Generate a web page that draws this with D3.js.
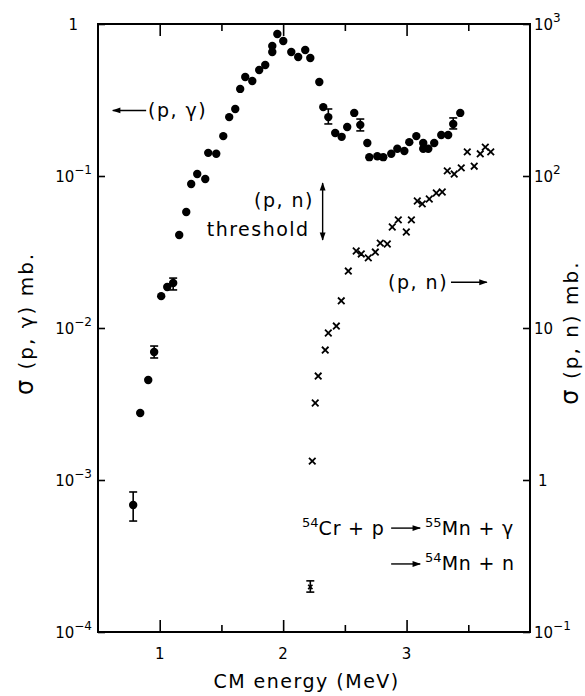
<!DOCTYPE html>
<html lang="en">
<head>
  <meta charset="UTF-8">
  <title>54Cr + p cross sections</title>
  <script src="https://d3js.org/d3.v7.min.js"></script>
  <style>
    body {
      margin: 0;
      background: #fff;
    }
    svg text {
      font-family: "DejaVu Sans", "Liberation Sans", sans-serif;
      fill: #000;
    }
    .frame {
      fill: none;
      stroke: #000;
      stroke-width: 2;
    }
    .tick line {
      stroke: #000;
      stroke-width: 1.6;
    }
    .note {
      font-size: 19px;
      letter-spacing: 1.5px;
    }
    .title {
      font-size: 20px;
      letter-spacing: 2px;
    }
    .reaction {
      font-size: 19px;
      letter-spacing: 0.8px;
    }
  </style>
</head>
<body>
  <svg width="585" height="696"></svg>

  <script>
    // (p,gamma) cross section, left axis (mb)
    const pgEnergy = [0.785, 0.842, 0.907, 0.955, 1.012, 1.061, 1.109, 1.158, 1.215, 1.255,
                      1.304, 1.369, 1.393, 1.458, 1.515, 1.563, 1.612, 1.652, 1.693, 1.750,
                      1.806, 1.855, 1.912, 1.912, 1.953, 2.001, 2.066, 2.122, 2.179, 2.220,
                      2.293, 2.325, 2.366, 2.422, 2.474, 2.519, 2.576, 2.625, 2.682, 2.698,
                      2.763, 2.811, 2.876, 2.925, 2.982, 3.022, 3.079, 3.135, 3.135, 3.176,
                      3.224, 3.281, 3.337, 3.378, 3.435];
    const pgSigma = [6.85e-4, 2.76e-3, 4.55e-3, 6.95e-3, 1.62e-2, 1.86e-2, 1.98e-2, 4.09e-2, 5.79e-2, 8.86e-2,
                     0.103, 0.0955, 0.142, 0.140, 0.183, 0.244, 0.276, 0.374, 0.448, 0.422,
                     0.498, 0.537, 0.654, 0.717, 0.860, 0.773, 0.654, 0.607, 0.675, 0.597,
                     0.415, 0.284, 0.244, 0.192, 0.181, 0.210, 0.260, 0.217, 0.165, 0.133,
                     0.135, 0.133, 0.140, 0.151, 0.146, 0.167, 0.183, 0.165, 0.151, 0.151,
                     0.165, 0.186, 0.186, 0.220, 0.260];

    // error bars on some (p,gamma) points
    const pgErrEnergy = [0.785, 0.955, 1.109, 2.366, 2.625, 3.378];
    const pgErrLow = [5.37e-4, 6.35e-3, 1.78e-2, 0.220, 0.198, 0.204];
    const pgErrHigh = [8.34e-4, 7.61e-3, 2.13e-2, 0.276, 0.237, 0.241];

    // (p,n) cross section, right axis (mb)
    const pnEnergy = [2.236, 2.260, 2.284, 2.341, 2.366, 2.431, 2.471, 2.528, 2.592, 2.633,
                      2.690, 2.747, 2.787, 2.844, 2.884, 2.933, 2.998, 3.039, 3.087, 3.127,
                      3.184, 3.241, 3.289, 3.330, 3.386, 3.443, 3.492, 3.548, 3.597, 3.638,
                      3.682];
    const pnSigma = [1.33, 3.21, 4.83, 7.16, 9.27, 10.3, 15.1, 23.7, 32.1, 30.7,
                     28.9, 31.6, 36.2, 35.7, 46.2, 51.4, 42.8, 51.4, 68.5, 65.5,
                     70.6, 77.3, 78.5, 108, 103, 113, 144, 116, 140, 155,
                     144];

    // lone (p,n) point near threshold, with error bar
    const pnErrEnergy = [2.22];
    const pnErrSigma = [0.198];
    const pnErrLow = [0.183];
    const pnErrHigh = [0.217];

    const xMajor = [1, 2, 3];
    const xMinor = [1.5, 2.5, 3.5];
    const leftTicks = [1e-4, 1e-3, 1e-2, 1e-1, 1];
    const leftExp = [-4, -3, -2, -1, 0];
    const rightTicks = [1e-1, 1, 10, 100, 1000];
    const rightExp = [-1, 0, 1, 2, 3];

    const svg = d3.select("svg"),
          margin = {top: 24, right: 55, bottom: 64, left: 98},
          width = +svg.attr("width") - margin.left - margin.right,
          height = +svg.attr("height") - margin.top - margin.bottom,
          chart = svg.append("g").attr("transform", `translate(${margin.left},${margin.top})`);

    const x = d3.scaleLinear().domain([0.5, 4.0]).range([0, width]);
    const yL = d3.scaleLog().domain([1e-4, 1]).range([height, 0]);
    const yR = d3.scaleLog().domain([1e-1, 1e3]).range([height, 0]);

    // frame
    chart.append("rect").attr("class", "frame")
      .attr("x", 0).attr("y", 0).attr("width", width).attr("height", height);

    // x ticks, inward on top and bottom
    const xTickVals = xMajor.concat(xMinor);
    chart.append("g").attr("class", "tick")
      .attr("transform", `translate(0,${height})`)
      .call(d3.axisBottom(x).tickValues(xTickVals).tickFormat(""))
      .call(g => g.select(".domain").remove())
      .call(g => g.selectAll("line").attr("y2", d => xMajor.includes(d) ? -12 : -7));
    chart.append("g").attr("class", "tick")
      .call(d3.axisTop(x).tickValues(xTickVals).tickFormat(""))
      .call(g => g.select(".domain").remove())
      .call(g => g.selectAll("line").attr("y2", d => xMajor.includes(d) ? 12 : 7));

    chart.selectAll(".xlab").data(xMajor).enter().append("text")
      .attr("x", d => x(d)).attr("y", height + 27)
      .attr("text-anchor", "middle").style("font-size", "15px")
      .text(d => d);

    // y ticks, inward
    chart.append("g").attr("class", "tick")
      .call(d3.axisLeft(yL).tickValues(leftTicks).tickFormat(""))
      .call(g => g.select(".domain").remove())
      .call(g => g.selectAll("line").attr("x2", 7));
    chart.append("g").attr("class", "tick")
      .attr("transform", `translate(${width},0)`)
      .call(d3.axisRight(yR).tickValues(rightTicks).tickFormat(""))
      .call(g => g.select(".domain").remove())
      .call(g => g.selectAll("line").attr("x2", -7));

    function powerLabel(sel, exp) {
      if (exp === 0) { sel.text("1"); return; }
      if (exp === 1) { sel.text("10"); return; }
      sel.append("tspan").text("10");
      sel.append("tspan").attr("dy", -8).style("font-size", "12px").text(exp < 0 ? "\u2212" + (-exp) : exp);
    }

    leftTicks.forEach((t, i) => {
      const lab = chart.append("text")
        .attr("x", leftExp[i] === 0 ? -20 : -6).attr("y", yL(t) + 6)
        .attr("text-anchor", "end").style("font-size", "15px");
      powerLabel(lab, leftExp[i]);
    });
    rightTicks.forEach((t, i) => {
      const lab = chart.append("text")
        .attr("x", width + (rightExp[i] === 0 ? 8 : 4)).attr("y", yR(t) + 6)
        .attr("text-anchor", "start").style("font-size", "15px");
      powerLabel(lab, rightExp[i]);
    });

    // axis titles
    function sigmaTitle(tx, ty, rest) {
      const t = svg.append("text").attr("class", "title")
        .attr("transform", `translate(${tx},${ty}) rotate(-90)`)
        .attr("text-anchor", "middle");
      t.append("tspan").style("font-size", "24px").text("\u03c3");
      t.append("tspan").text(rest);
    }
    sigmaTitle(33, margin.top + yL(10 ** -1.97), " (p, \u03b3)  mb.");
    sigmaTitle(578, margin.top + yR(10 ** 0.97), " (p, n)  mb.");
    svg.append("text").attr("class", "note")
      .attr("x", margin.left + x(2.19)).attr("y", 688)
      .attr("text-anchor", "middle")
      .text("CM energy  (MeV)");

    // arrow marker
    const defs = svg.append("defs");
    defs.append("marker").attr("id", "head")
      .attr("viewBox", "0 0 10 10").attr("refX", 9).attr("refY", 5)
      .attr("markerWidth", 7).attr("markerHeight", 6).attr("orient", "auto-start-reverse")
      .append("path").attr("d", "M0,1.5 L10,5 L0,8.5 Z").attr("fill", "#000");

    function arrow(x1, y1, x2, y2, both) {
      const l = chart.append("line")
        .attr("x1", x1).attr("y1", y1).attr("x2", x2).attr("y2", y2)
        .attr("stroke", "#000").attr("stroke-width", 1.4)
        .attr("marker-end", "url(#head)");
      if (both) l.attr("marker-start", "url(#head)");
    }

    // error bars
    function errBars(e, lo, hi, y) {
      e.forEach((v, i) => {
        const cx = x(v);
        chart.append("line").attr("x1", cx).attr("x2", cx)
          .attr("y1", y(lo[i])).attr("y2", y(hi[i]))
          .attr("stroke", "#000").attr("stroke-width", 1.6);
        [lo[i], hi[i]].forEach(b => {
          chart.append("line").attr("x1", cx - 4).attr("x2", cx + 4)
            .attr("y1", y(b)).attr("y2", y(b))
            .attr("stroke", "#000").attr("stroke-width", 1.6);
        });
      });
    }
    errBars(pgErrEnergy, pgErrLow, pgErrHigh, yL);
    errBars(pnErrEnergy, pnErrLow, pnErrHigh, yR);

    // (p,gamma) dots
    chart.selectAll(".pg").data(pgEnergy).enter().append("circle")
      .attr("class", "pg")
      .attr("cx", d => x(d))
      .attr("cy", (d, i) => yL(pgSigma[i]))
      .attr("r", 4.2)
      .attr("fill", "#000");

    // (p,n) crosses
    const cross = d3.symbol().type(d3.symbolX).size(30);
    chart.selectAll(".pn").data(pnEnergy).enter().append("path")
      .attr("class", "pn")
      .attr("d", cross)
      .attr("transform", (d, i) => `translate(${x(d)},${yR(pnSigma[i])})`)
      .attr("fill", "none").attr("stroke", "#000").attr("stroke-width", 1.8);
    chart.selectAll(".pnerr").data(pnErrEnergy).enter().append("path")
      .attr("d", d3.symbol().type(d3.symbolX).size(14))
      .attr("transform", (d, i) => `translate(${x(d)},${yR(pnErrSigma[i])})`)
      .attr("fill", "none").attr("stroke", "#000").attr("stroke-width", 1.6);

    // annotations
    arrow(x(0.89), yL(0.27), x(0.62), yL(0.27));
    chart.append("text").attr("class", "note")
      .attr("x", x(0.905)).attr("y", yL(0.27) + 7)
      .text("(p, \u03b3)");

    chart.append("text").attr("class", "note")
      .attr("x", x(2.25)).attr("y", yL(0.1) + 31)
      .attr("text-anchor", "end").text("(p, n)");
    chart.append("text").attr("class", "note")
      .attr("x", x(2.215)).attr("y", yL(0.1) + 60)
      .attr("text-anchor", "end").text("threshold");
    arrow(x(2.32), yL(0.1) + 7, x(2.32), yL(0.1) + 64, true);

    chart.append("text").attr("class", "note")
      .attr("x", x(2.85)).attr("y", yR(20) + 7)
      .text("(p, n)");
    arrow(x(3.36), yR(20), x(3.65), yR(20));

    // reaction
    function nuclide(xv, yv, mass, rest) {
      const t = chart.append("text").attr("class", "reaction")
        .attr("x", x(xv)).attr("y", yR(yv));
      t.append("tspan").attr("dy", -8).style("font-size", "13px").style("letter-spacing", "0px").text(mass);
      t.append("tspan").attr("dy", 8).text(rest);
    }
    nuclide(2.153, 0.434, "54", "Cr + p");
    arrow(x(2.875), yR(0.434) - 7, x(3.11), yR(0.434) - 7);
    nuclide(3.15, 0.434, "55", "Mn + \u03b3");
    arrow(x(2.875), yR(0.256) - 6, x(3.11), yR(0.256) - 6);
    nuclide(3.15, 0.256, "54", "Mn + n");
  </script>
</body>
</html>
